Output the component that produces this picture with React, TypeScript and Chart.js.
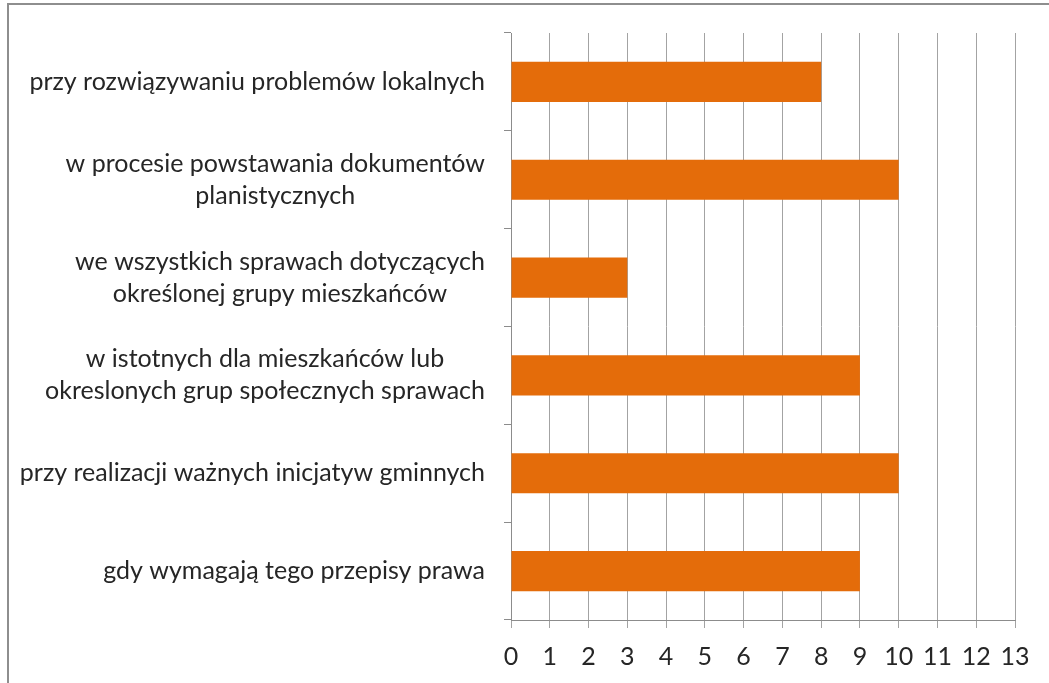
import React, { useEffect, useRef } from "react";
import { Chart, registerables } from "chart.js";

Chart.register(...registerables);

const categories: string[][] = [
  ["przy rozwiązywaniu problemów lokalnych"],
  ["w procesie powstawania dokumentów", "planistycznych"],
  ["we wszystkich sprawach dotyczących", "określonej grupy mieszkańców"],
  ["w istotnych dla mieszkańców lub", "okreslonych grup społecznych sprawach"],
  ["przy realizacji ważnych inicjatyw gminnych"],
  ["gdy wymagają tego przepisy prawa"],
];
const values: number[] = [8, 10, 3, 9, 10, 9];
const xMin = 0;
const xMax = 13;
const xStep = 1;

const FONT_FAMILY = "Lato, 'Open Sans', sans-serif";
const FONT_SIZE = 25;
const TEXT_COLOR = "#262626";
const BAR_COLOR = "#E46C0A";
const GRID_COLOR = "#a3a3a3";
const AXIS_COLOR = "#8c8c8c";

const labelPlugin = {
  id: "blockLabels",
  afterDraw(chart: any) {
    const y = chart.scales.y;
    const ctx = chart.ctx;
    ctx.save();
    ctx.font = `${FONT_SIZE}px ${FONT_FAMILY}`;
    ctx.fillStyle = TEXT_COLOR;
    ctx.textAlign = "center";
    ctx.textBaseline = "middle";
    const rightEdge = y.right - 26;
    const lineH = 32;
    categories.forEach((lines, i) => {
      const cy = y.getPixelForValue(i);
      const w = Math.max(...lines.map((l) => ctx.measureText(l).width));
      const cx = rightEdge - w / 2;
      lines.forEach((l, j) => {
        ctx.fillText(l, cx, cy + (j - (lines.length - 1) / 2) * lineH);
      });
    });
    ctx.restore();
  },
};

export default function App() {
  const ref = useRef<HTMLCanvasElement | null>(null);
  useEffect(() => {
    if (!ref.current) return;
    const chart = new Chart(ref.current, {
      type: "bar",
      data: {
        labels: categories.map((c) => c.join(" ")),
        datasets: [
          {
            data: values,
            backgroundColor: BAR_COLOR,
            borderWidth: 0,
            categoryPercentage: 1,
            barPercentage: 0.41,
          },
        ],
      },
      options: {
        indexAxis: "y",
        animation: false,
        responsive: false,
        maintainAspectRatio: false,
        layout: { padding: { top: 33, right: 34, bottom: 0, left: 0 } },
        plugins: { legend: { display: false }, tooltip: { enabled: false } },
        scales: {
          x: {
            min: xMin,
            max: xMax,
            ticks: {
              stepSize: xStep,
              color: TEXT_COLOR,
              font: { family: FONT_FAMILY, size: FONT_SIZE },
              padding: 14,
            },
            grid: { color: GRID_COLOR, tickLength: 8, drawTicks: true },
            border: { color: AXIS_COLOR },
            afterFit: (s: any) => {
              s.height = 63;
            },
          },
          y: {
            ticks: { display: false },
            grid: {
              drawOnChartArea: false,
              drawTicks: true,
              tickLength: 7,
              color: AXIS_COLOR,
              offset: true,
            },
            border: { color: AXIS_COLOR },
            afterFit: (s: any) => {
              s.width = 511;
            },
          },
        },
      },
      plugins: [labelPlugin],
    });
    return () => chart.destroy();
  }, []);

  return (
    <div
      style={{
        position: "fixed",
        left: 0,
        top: 0,
        width: 1049,
        height: 683,
        background: "#fff",
        overflow: "hidden",
      }}
    >
      <div
        style={{
          position: "absolute",
          left: 7,
          top: 3,
          width: 1100,
          height: 800,
          borderLeft: "2px solid #8e8e8e",
          borderTop: "2px solid #8e8e8e",
        }}
      />
      <canvas
        ref={ref}
        width={1049}
        height={683}
        style={{ position: "absolute", left: 0, top: 0, width: 1049, height: 683 }}
      />
    </div>
  );
}
